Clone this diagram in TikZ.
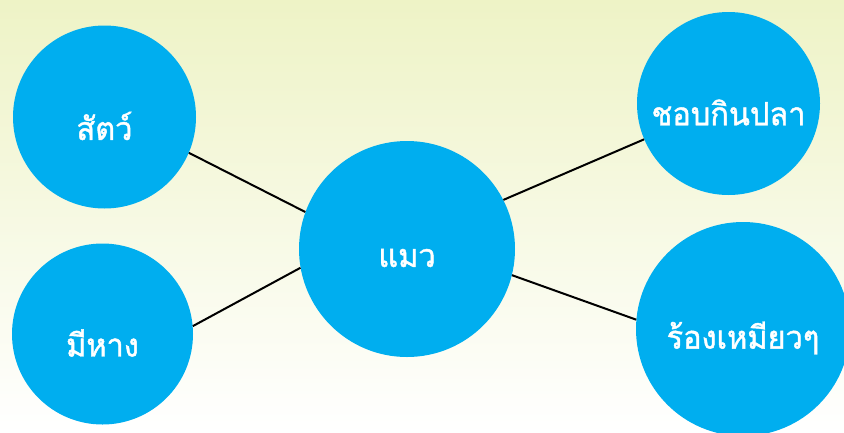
\documentclass[tikz,border=0pt]{standalone}
\usepackage{fontspec}
\newfontfamily\thaifont[Script=Thai,FakeStretch=0.96,FakeBold=1.3]{Loma}
\definecolor{bgtop}{HTML}{EEF3C6}
\definecolor{bubble}{HTML}{00AEEF}
\newcommand\lowtxt[1]{\raisebox{-9pt}[\height][\depth]{#1}}
\tikzset{
  bubble/.style={circle, fill=bubble, draw=none, inner sep=0pt, text=white,
    font=\thaifont\fontsize{32}{36}\selectfont},
  link/.style={line width=2pt, black}
}
\begin{document}
\begin{tikzpicture}[x=1pt,y=-1pt]
\shade[top color=bgtop, bottom color=white] (0,0) rectangle (844,432);
\useasboundingbox (0,0) rectangle (844,432);
\node[bubble, minimum size=183pt] (satw) at (104.5,117) {\lowtxt{สัตว์}};
\node[bubble, minimum size=181pt] (hang) at (102.5,334) {\lowtxt{มีหาง}};
\node[bubble, minimum size=216pt] (maew) at (407,249) {\lowtxt{แมว}};
\node[bubble, minimum size=183pt] (pla) at (728.5,103.5) {\lowtxt{ชอบกินปลา}};
\node[bubble, minimum size=214pt] (miao) at (743,329) {\lowtxt{ร้องเหมียวๆ}};
\draw[link] (satw.-23.8) -- (maew.160.6);
\draw[link] (hang.5.7) -- (maew.190.7);
\draw[link] (maew.27.3) -- (pla.203.9);
\draw[link] (maew.-14.4) -- (miao.175.1);
\end{tikzpicture}
\end{document}
